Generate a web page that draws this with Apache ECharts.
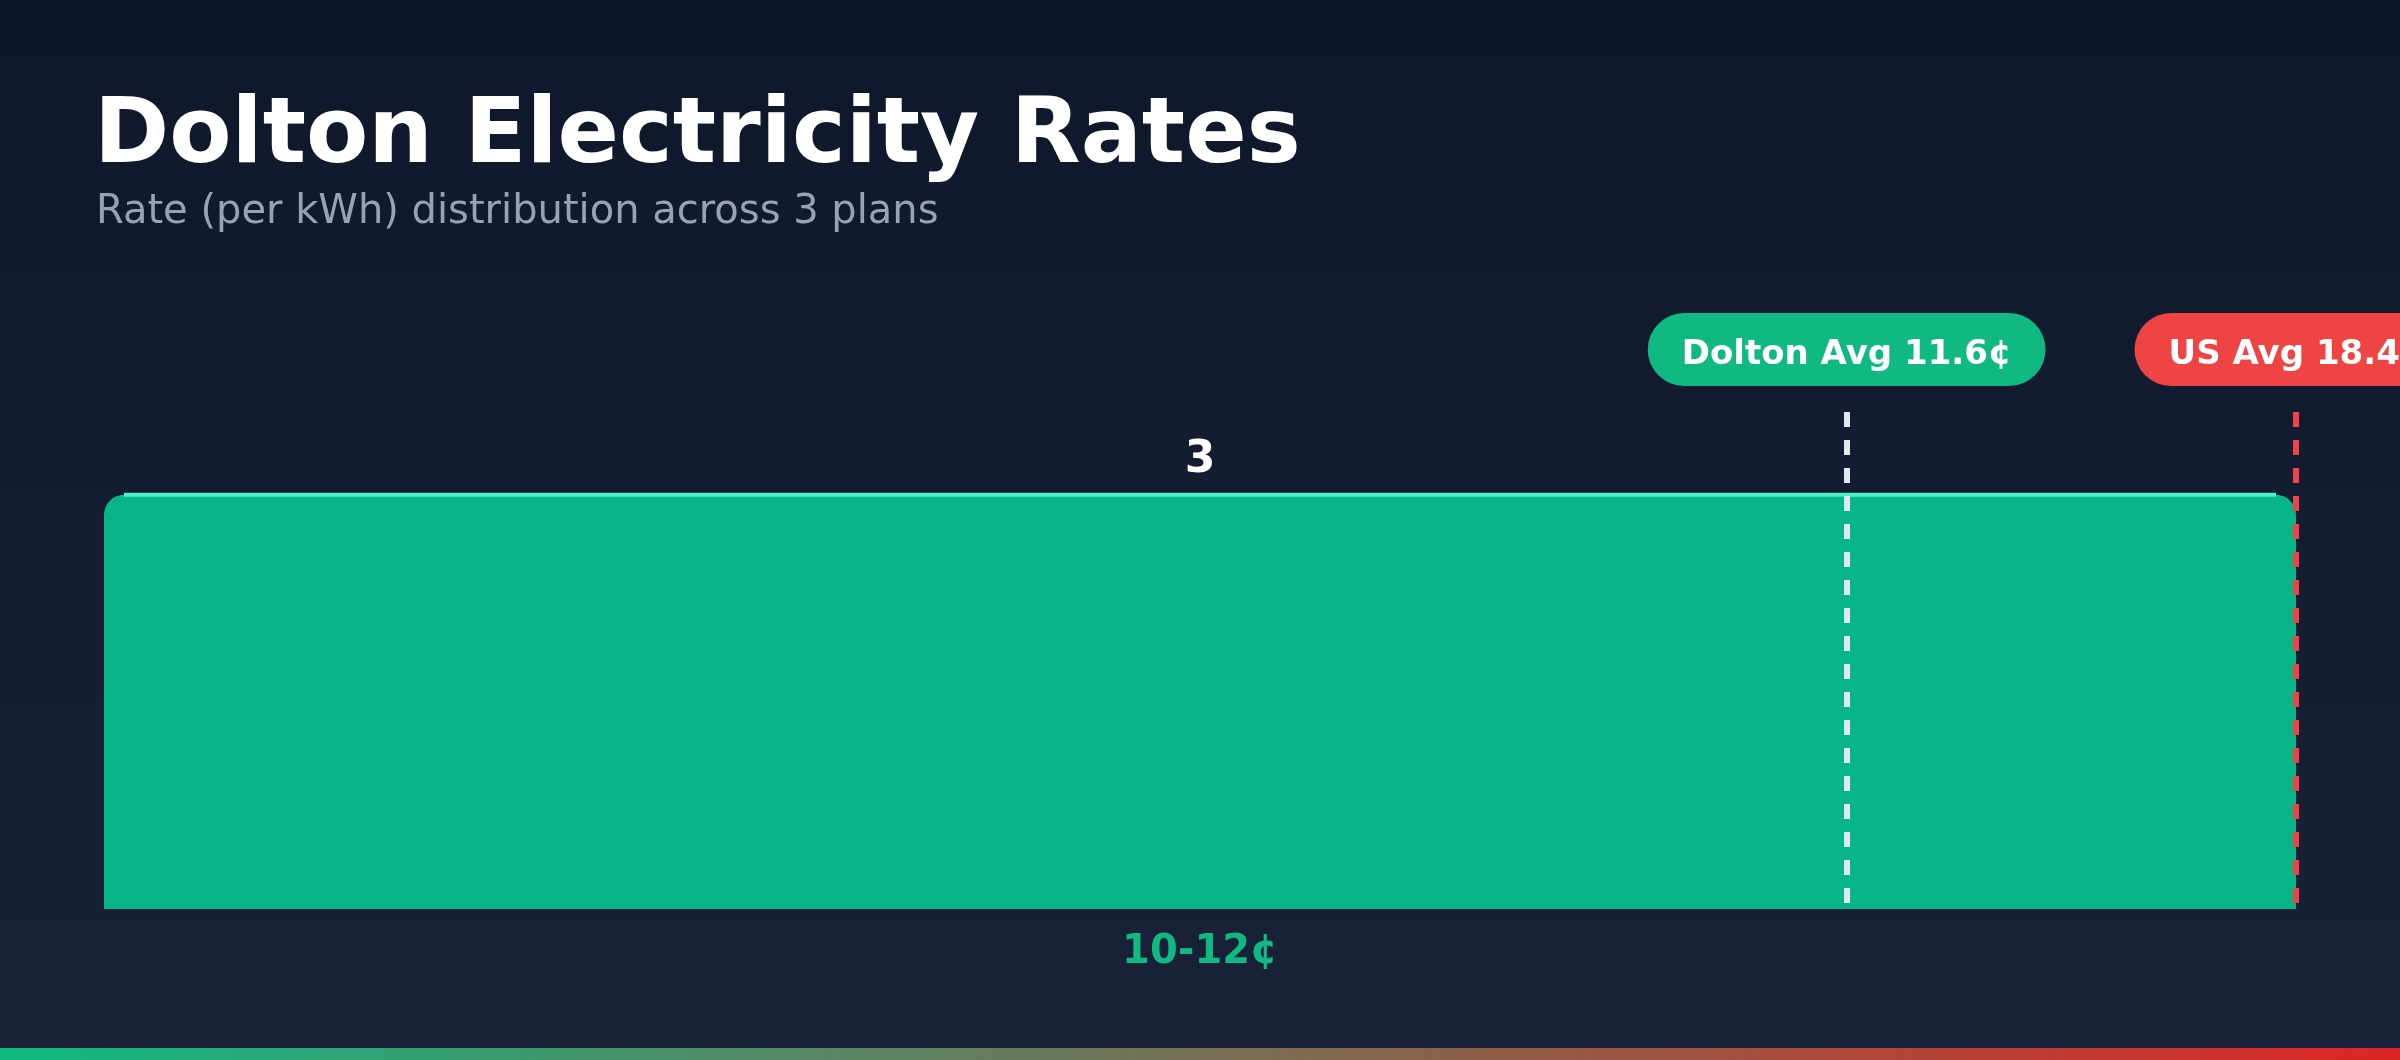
<!DOCTYPE html>
<html>
<head>
<meta charset="utf-8">
<script src="https://cdn.jsdelivr.net/npm/echarts@6/dist/echarts.min.js"></script>
<style>
html,body{margin:0;padding:0;background:#0f172a;}
#chart{width:2400px;height:1060px;}
</style>
</head>
<body>
<div id="chart"></div>
<script>
// ---- data ----
var titleText = 'Dolton Electricity Rates';
var subtitleText = 'Rate (per kWh) distribution across 3 plans';
var binLabels = ['10-12¢'];
var binStarts = [10];
var binEnds = [12];
var binCounts = [3];
var doltonAvg = 11.59;   // shown rounded as 11.6¢
var usAvg = 18.4;
var doltonAvgLabel = 'Dolton Avg 11.6¢';
var usAvgLabel = 'US Avg 18.4¢';

var xMin = binStarts[0];
var xMax = binEnds[binEnds.length - 1];
var yMax = Math.max.apply(null, binCounts) * 1.2;

var FONT = '"DejaVu Sans", sans-serif';

var chart = echarts.init(document.getElementById('chart'), null, {renderer: 'canvas'});

var barData = binLabels.map(function (l, i) { return [binStarts[i], binEnds[i], binCounts[i]]; });

function pillLabel(text, bg) {
  return {show: true, position: 'end', formatter: text, distance: 26,
    color: '#ffffff', fontSize: 34, fontWeight: 'bold', fontFamily: FONT, lineHeight: 34,
    backgroundColor: bg, borderRadius: 37, padding: [25, 34, 14, 34]};
}

var option = {
  animation: false,
  backgroundColor: {
    type: 'linear', x: 0, y: 0, x2: 0, y2: 1,
    colorStops: [{offset: 0, color: '#0f172a'}, {offset: 1, color: '#1a2239'}]
  },
  title: [
    {text: titleText, left: 89, top: 88,
     textStyle: {color: '#ffffff', fontSize: 90.7, fontWeight: 'bold', fontFamily: FONT, lineHeight: 91}},
    {text: subtitleText, left: 91, top: 188,
     textStyle: {color: '#94a3b8', fontSize: 40, fontWeight: 'normal', fontFamily: FONT, lineHeight: 40}}
  ],
  grid: {left: 104, right: 104, top: 412, bottom: 151, containLabel: false},
  xAxis: [
    {type: 'category', data: binLabels, gridIndex: 0,
     axisLine: {show: false}, axisTick: {show: false}, splitLine: {show: false},
     axisLabel: {color: '#10b981', fontSize: 40, fontWeight: 'bold', fontFamily: FONT, margin: 24}},
    {type: 'value', min: xMin, max: xMax, gridIndex: 0, show: false, splitLine: {show: false}}
  ],
  yAxis: [
    {type: 'value', min: 0, max: yMax, show: false, splitLine: {show: false}}
  ],
  graphic: [
    {type: 'rect', left: 0, bottom: 0, shape: {width: 2400, height: 12}, z: 10,
     style: {fill: {type: 'linear', x: 0, y: 0, x2: 1, y2: 0,
       colorStops: [{offset: 0, color: '#10b981'}, {offset: 1, color: '#dc2626'}]}}}
  ],
  series: [
    {
      type: 'custom',
      xAxisIndex: 1,
      yAxisIndex: 0,
      clip: false,
      data: barData,
      encode: {x: [0, 1], y: 2},
      renderItem: function (params, api) {
        var p0 = api.coord([api.value(0), api.value(2)]);
        var p1 = api.coord([api.value(1), 0]);
        var x = p0[0], y = p0[1], w = p1[0] - p0[0], h = p1[1] - p0[1];
        var r = 20;
        return {
          type: 'group',
          children: [
            {type: 'rect', shape: {x: x, y: y, width: w, height: h, r: [r, r, 0, 0]},
             style: {fill: '#08b589'}},
            {type: 'rect', shape: {x: x + r, y: y - 2, width: w - 2 * r, height: 4},
             style: {fill: '#4cf0c8'}},
            {type: 'text', style: {text: String(api.value(2)), x: x + w / 2, y: y - 34,
              align: 'center', verticalAlign: 'middle', fill: '#ffffff',
              fontSize: 44, fontWeight: 'bold', fontFamily: FONT}}
          ]
        };
      },
      markLine: {
        silent: true,
        symbol: ['none', 'none'],
        precision: 2,
        data: [
          {xAxis: Math.min(Math.max(doltonAvg, xMin), xMax),
           lineStyle: {color: '#e2e8f0', width: 6, type: [15, 13], dashOffset: 22},
           label: pillLabel(doltonAvgLabel, '#10b981')},
          {xAxis: Math.min(Math.max(usAvg, xMin), xMax),
           lineStyle: {color: '#ef4444', width: 6, type: [15, 13], dashOffset: 22},
           label: pillLabel(usAvgLabel, '#ef4444')}
        ]
      }
    }
  ]
};
chart.setOption(option);
</script>
</body>
</html>
